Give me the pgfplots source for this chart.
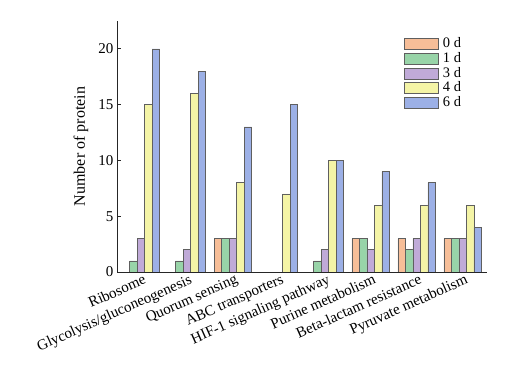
\documentclass[border=0pt]{standalone}
\usepackage{fontspec}
\setmainfont{Liberation Serif}
\usepackage{pgfplots}
\pgfplotsset{compat=1.18}
\definecolor{c0}{RGB}{247,190,152}
\definecolor{c1}{RGB}{152,212,168}
\definecolor{c3}{RGB}{192,170,216}
\definecolor{c4}{RGB}{244,244,166}
\definecolor{c6}{RGB}{156,176,230}
\definecolor{edge}{RGB}{95,95,95}
\begin{document}
\begin{tikzpicture}[font=\fontsize{15}{17}\selectfont]
\useasboundingbox (0,0) rectangle (529pt,374pt);
\begin{axis}[
  at={(117pt,102pt)}, anchor=south west,
  scale only axis, width=370pt, height=251pt,
  ybar=0pt, bar width=7.5pt,
  xmin=-0.52, xmax=7.53, ymin=0, ymax=22.5,
  axis x line*=bottom, axis y line*=left,
  axis line style={line width=0.8pt, color=black!85, -},
  xtick={0,...,7},
  xticklabels={Ribosome,Glycolysis/gluconeogenesis,Quorum sensing,ABC transporters,HIF-1 signaling pathway,Purine metabolism,Beta-lactam resistance,Pyruvate metabolism},
  x tick label style={font=\fontsize{15}{17}\selectfont, rotate=24, anchor=north east, inner sep=1pt, yshift=-1pt, xshift=2pt},
  y tick label style={font=\fontsize{15}{17}\selectfont},
  major x tick style={draw=none},
  ytick={0,5,10,15,20},
  tick align=inside, major tick length=4pt,
  y tick style={line width=0.8pt, color=black!85},
  every axis y label/.style={at={(axis description cs:-0.0973,0.5)}, rotate=90, anchor=center, font=\fontsize{16}{18}\selectfont},
  ylabel={Number of protein},
  /pgf/number format/assume math mode=true,
  every axis plot/.append style={draw=edge, line width=0.6pt},
  legend style={at={(0.776,0.936)}, anchor=north west, draw=none, fill=none, inner sep=0pt, row sep=1.2pt,
    font=\fontsize{14.5}{16}\selectfont,
    nodes={inner sep=1pt, text height=9.5pt, text depth=2pt, anchor=west},
    /tikz/every odd column/.append style={column sep=3pt}},
  legend cell align=left,
  legend image code/.code={\draw[#1] (0pt,-5.5pt) rectangle (34pt,5.5pt);},
]
\addplot[fill=c0] coordinates {(2,3) (5,3) (6,3) (7,3)};
\addplot[fill=c1] coordinates {(0,1) (1,1) (2,3) (4,1) (5,3) (6,2) (7,3)};
\addplot[fill=c3] coordinates {(0,3) (1,2) (2,3) (4,2) (5,2) (6,3) (7,3)};
\addplot[fill=c4] coordinates {(0,15) (1,16) (2,8) (3,7) (4,10) (5,6) (6,6) (7,6)};
\addplot[fill=c6] coordinates {(0,20) (1,18) (2,13) (3,15) (4,10) (5,9) (6,8) (7,4)};
\legend{0 d,1 d,3 d,4 d,6 d}
\end{axis}
\end{tikzpicture}
\end{document}
